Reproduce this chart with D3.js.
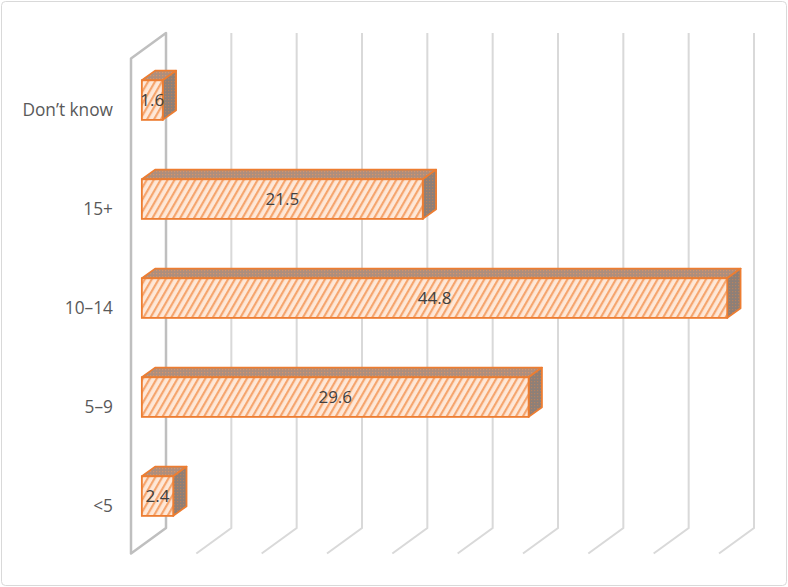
<!DOCTYPE html>
<html>
<head>
<meta charset="utf-8">
<script src="https://cdn.jsdelivr.net/npm/d3@7"></script>
<style>
  body { margin: 0; background: #fff; }
</style>
</head>
<body>
<div id="chart"></div>
<script>
// chart values
var categories = ["Don\u2019t know", "15+", "10\u201314", "5\u20139", "<5"];
var values = [1.6, 21.5, 44.8, 29.6, 2.4];
var tickValues = [0, 5, 10, 15, 20, 25, 30, 35, 40, 45];

var width = 788, height = 587;

var svg = d3.select("#chart").append("svg")
    .attr("width", width)
    .attr("height", height);

// outer border
svg.append("rect")
  .attr("x", 1.5).attr("y", 1.5)
  .attr("width", width - 3).attr("height", height - 3)
  .attr("rx", 4)
  .style("fill", "#fff")
  .style("stroke", "#d9d9d9")
  .style("stroke-width", 1);

// back plane scales
var xScale = d3.scaleLinear().domain([0, 45]).range([166, 754]);
var yScale = d3.scaleBand().domain(categories).range([33, 528])
    .paddingInner(0.6).paddingOuter(0.3);

// depth vector (front -> back)
var depth = {x: 35, y: -25.5};
var barFront = 0.69, barBack = 0.31; // fraction of depth measured from back

var defs = svg.append("defs");

var hatch = defs.append("pattern")
  .attr("id", "hatch")
  .attr("patternUnits", "userSpaceOnUse")
  .attr("width", 6).attr("height", 6)
  .attr("patternTransform", "rotate(30)");
hatch.append("rect").attr("width", 6).attr("height", 6).style("fill", "#fee8d8");
hatch.append("rect").attr("x", 0).attr("width", 2.2).attr("height", 6).style("fill", "#f5a56e");

var dotsTop = defs.append("pattern")
  .attr("id", "dotsTop")
  .attr("patternUnits", "userSpaceOnUse")
  .attr("width", 3).attr("height", 3);
dotsTop.append("rect").attr("width", 3).attr("height", 3).style("fill", "#ad8e7d");
dotsTop.append("rect").attr("width", 1.2).attr("height", 1.2).style("fill", "#d99468");

var dotsSide = defs.append("pattern")
  .attr("id", "dotsSide")
  .attr("patternUnits", "userSpaceOnUse")
  .attr("width", 3).attr("height", 3);
dotsSide.append("rect").attr("width", 3).attr("height", 3).style("fill", "#8e7f77");
dotsSide.append("rect").attr("width", 1.2).attr("height", 1.2).style("fill", "#b8825f");

var yTop = yScale.range()[0], yBot = yScale.range()[1];

// gridlines on the back wall and floor
svg.selectAll(".grid")
  .data(tickValues.slice(1))
 .enter()
  .append("path")
  .attr("class", "grid")
  .attr("d", function(d) {
    var x = xScale(d);
    return "M" + x + "," + yTop + "V" + yBot + "L" + (x - depth.x) + "," + (yBot - depth.y);
  })
  .style("fill", "none")
  .style("stroke", "#d9d9d9")
  .style("stroke-width", 2);

// side wall
var x0 = xScale(0);
svg.append("path")
  .attr("d", "M" + x0 + "," + yTop + "V" + yBot +
             "L" + (x0 - depth.x) + "," + (yBot - depth.y) +
             "V" + (yTop - depth.y) + "Z")
  .style("fill", "none")
  .style("stroke", "#bfbfbf")
  .style("stroke-width", 2.5)
  .style("stroke-linejoin", "round");

// bars
var fx = -depth.x * barFront, fy = -depth.y * barFront;
var bx = -depth.x * barBack, by = -depth.y * barBack;
var bars = svg.selectAll(".bar")
  .data(values)
 .enter()
  .append("g")
  .attr("class", "bar");

function pts(a) { return a.map(function(p) { return p[0] + "," + p[1]; }).join(" "); }

bars.append("polygon")
  .attr("points", function(d, i) {
    var y0 = yScale(categories[i]);
    var xl = xScale(0), xr = xScale(d);
    return pts([[xl + fx, y0 + fy], [xr + fx, y0 + fy], [xr + bx, y0 + by], [xl + bx, y0 + by]]);
  })
  .style("fill", "url(#dotsTop)")
  .style("stroke", "#ed7d31").style("stroke-width", 1.8).style("stroke-linejoin", "round");

bars.append("polygon")
  .attr("points", function(d, i) {
    var y0 = yScale(categories[i]), y1 = y0 + yScale.bandwidth();
    var xr = xScale(d);
    return pts([[xr + fx, y0 + fy], [xr + bx, y0 + by], [xr + bx, y1 + by], [xr + fx, y1 + fy]]);
  })
  .style("fill", "url(#dotsSide)")
  .style("stroke", "#ed7d31").style("stroke-width", 1.8).style("stroke-linejoin", "round");

bars.append("rect")
  .attr("x", function() { return xScale(0) + fx; })
  .attr("y", function(d, i) { return yScale(categories[i]) + fy; })
  .attr("width", function(d) { return xScale(d) - xScale(0); })
  .attr("height", yScale.bandwidth())
  .style("fill", "url(#hatch)")
  .style("stroke", "#ed7d31").style("stroke-width", 1.8);

// data labels
bars.append("text")
  .attr("x", function(d) { return (xScale(0) + xScale(d)) / 2 + fx; })
  .attr("y", function(d, i) { return yScale(categories[i]) + yScale.bandwidth() / 2 + fy; })
  .attr("dy", "0.36em")
  .attr("text-anchor", "middle")
  .text(function(d) { return d.toFixed(1); })
  .style("fill", "#404040")
  .style("font-size", "17px")
  .style("font-family", "'Open Sans', sans-serif");

// category labels on the front plane
svg.selectAll(".catLabel")
  .data(categories)
 .enter()
  .append("text")
  .attr("class", "catLabel")
  .attr("x", 113)
  .attr("y", function(d) { return yScale(d) + yScale.bandwidth() / 2 - depth.y + 2; })
  .attr("dy", "0.36em")
  .attr("text-anchor", "end")
  .text(function(d) { return d; })
  .style("fill", "#595959")
  .style("font-size", "17.3px")
  .style("font-family", "'Open Sans', sans-serif");
</script>
</body>
</html>
